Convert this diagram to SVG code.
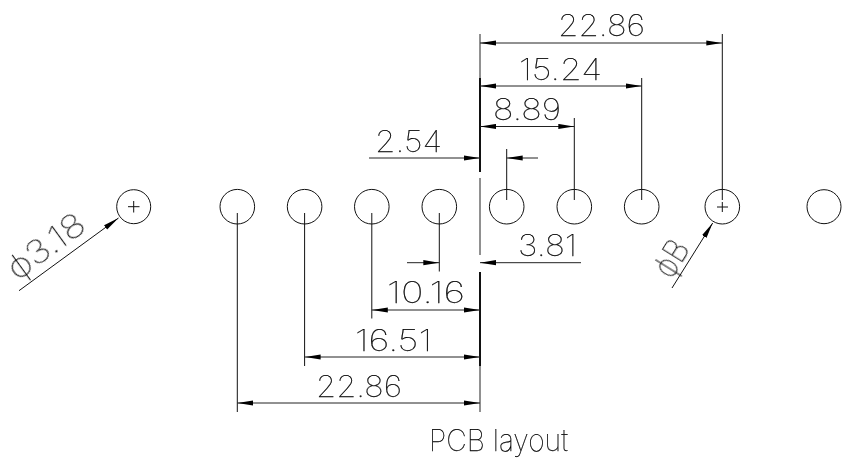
<svg xmlns="http://www.w3.org/2000/svg" width="855" height="462" viewBox="0 0 855 462">
<defs>
<marker id="arrow" viewBox="0 0 16 6" refX="16" refY="3" markerWidth="16" markerHeight="6" markerUnits="userSpaceOnUse" orient="auto-start-reverse"><path d="M0 0.4L16 3L0 5.6Z" fill="#000"/></marker>
</defs>
<style>
.hole{fill:none;stroke:#111;stroke-width:1}
.ln{fill:none;stroke:#111;stroke-width:1}
.dim{fill:none;stroke:#222;stroke-width:1}
.both{marker-start:url(#arrow);marker-end:url(#arrow)}
.end{marker-end:url(#arrow)}
.datum{fill:none;stroke:#111;stroke-width:2}
#labels{opacity:.99}
text{font-family:"Inter","Roboto","Liberation Sans",sans-serif;font-weight:100;font-size:30px;fill:#000;stroke:#000;stroke-width:.25}
text.big{font-size:33px}
</style>
<rect width="855" height="462" fill="#fff"/>
<g id="hole-1"><circle class="hole" cx="133.7" cy="206.7" r="17"/><path class="ln" d="M128 206.7H139.5M133.7 201V212.5"/></g>
<g id="hole-2"><circle class="hole" cx="237.3" cy="206.7" r="17.3"/></g>
<g id="hole-3"><circle class="hole" cx="304.6" cy="206.7" r="17.3"/></g>
<g id="hole-4"><circle class="hole" cx="371.8" cy="206.7" r="17.3"/></g>
<g id="hole-5"><circle class="hole" cx="439.3" cy="206.7" r="17.3"/></g>
<g id="hole-6"><circle class="hole" cx="506.7" cy="206.7" r="17.3"/></g>
<g id="hole-7"><circle class="hole" cx="574.3" cy="206.7" r="17.3"/></g>
<g id="hole-8"><circle class="hole" cx="641.7" cy="206.7" r="17.3"/></g>
<g id="hole-9"><circle class="hole" cx="722.3" cy="206.7" r="17.3"/><path class="ln" d="M717 207H728M722.3 202V212"/></g>
<g id="hole-10"><circle class="hole" cx="824" cy="206.7" r="17"/></g>
<g id="connectors">
<path class="dim" d="M480 34V172M480 178V255M480 272V412"/>
<path class="datum" d="M480 78V172M480 272V366"/>
<path class="ln" d="M722.3 34V200M641.7 78V200M574.3 118V200M506.7 149V200M237.3 213V412M304.6 213V366M371.8 213V318.5M439.3 213V271.5"/>
<path class="dim both" d="M480 43H722.3"/>
<path class="dim both" d="M480 86H641.7"/>
<path class="dim both" d="M480 126.5H574.3"/>
<path class="dim end" d="M369 158H480"/>
<path class="dim end" d="M538 158H506.7"/>
<path class="dim end" d="M581 262.7H480"/>
<path class="dim end" d="M407 262.7H439.3"/>
<path class="dim both" d="M371.8 310H480"/>
<path class="dim both" d="M304.6 357H480"/>
<path class="dim both" d="M237.3 403H480"/>
<path class="ln end" d="M19 290.7L118.5 218"/>
<path class="ln end" d="M672 288L712.7 223"/>
</g>
<g id="labels">
<text x="558" y="36" textLength="87" lengthAdjust="spacingAndGlyphs">22.86</text>
<text x="519" y="80" textLength="83" lengthAdjust="spacingAndGlyphs">15.24</text>
<text x="493" y="120" textLength="68" lengthAdjust="spacingAndGlyphs">8.89</text>
<text x="375" y="152" textLength="67" lengthAdjust="spacingAndGlyphs">2.54</text>
<text x="518" y="256" textLength="59" lengthAdjust="spacingAndGlyphs">3.81</text>
<text x="387" y="303" textLength="78" lengthAdjust="spacingAndGlyphs">10.16</text>
<text x="355" y="351" textLength="77" lengthAdjust="spacingAndGlyphs">16.51</text>
<text x="316" y="397" textLength="86" lengthAdjust="spacingAndGlyphs">22.86</text>
<text x="429" y="451" textLength="139" lengthAdjust="spacingAndGlyphs">PCB layout</text>
<text class="big" transform="translate(17 281) rotate(-36)" textLength="88" lengthAdjust="spacingAndGlyphs">ϕ3.18</text>
<text class="big" transform="translate(671 280) rotate(-58)" textLength="37" lengthAdjust="spacingAndGlyphs">ϕB</text>
</g>
</svg>
